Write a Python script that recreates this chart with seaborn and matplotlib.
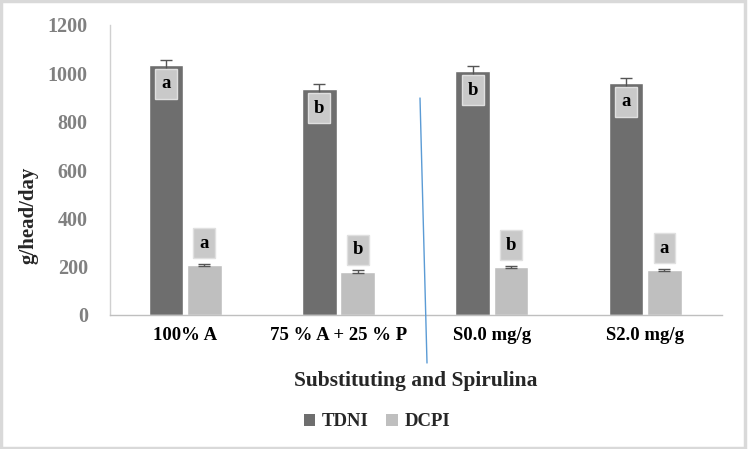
import matplotlib
matplotlib.use("Agg")
import matplotlib.pyplot as plt
import seaborn as sns
import pandas as pd
import numpy as np
from matplotlib.patches import Rectangle, Patch
from matplotlib.lines import Line2D

categories = ["100% A", "75 % A + 25 % P", "S0.0 mg/g", "S2.0 mg/g"]
tdni = [1035, 935, 1010, 962]
dcpi = [207, 180, 199, 186]
tdni_err = [20, 20, 20, 20]
dcpi_err = [5, 5, 5, 5]
tdni_letters = ["a", "b", "b", "a"]
dcpi_letters = ["a", "b", "b", "a"]
series = ["TDNI", "DCPI"]
colors = {"TDNI": "#6e6e6e", "DCPI": "#bfbfbf"}

df = pd.DataFrame({
    "cat": categories * 2,
    "series": ["TDNI"] * 4 + ["DCPI"] * 4,
    "val": tdni + dcpi,
})

sns.set_style("white")
plt.rcParams["font.family"] = ["Liberation Serif", "DejaVu Serif"]

fig = plt.figure(figsize=(7.48, 4.49), dpi=100)
ax = fig.add_axes([110 / 748, 1 - 315 / 449, 612 / 748, 290 / 449])

sns.barplot(data=df, x="cat", y="val", hue="series", palette=colors,
            width=0.5, gap=0.1, ax=ax, legend=False, errorbar=None,
            order=categories, hue_order=series, saturation=1)

bars = ax.patches
tdni_bars = bars[:4]
dcpi_bars = bars[4:8]
for blist, vals, errs in [(tdni_bars, tdni, tdni_err), (dcpi_bars, dcpi, dcpi_err)]:
    xs = [b.get_x() + b.get_width() / 2 for b in blist]
    ax.errorbar(xs, vals, yerr=errs, fmt="none", ecolor="#555555",
                elinewidth=1, capsize=4, capthick=1)

bw = 0.143
bh = 124
for b, v, l in zip(tdni_bars, tdni, tdni_letters):
    cx = b.get_x() + b.get_width() / 2
    ax.add_patch(Rectangle((cx - bw / 2, v - 17 - bh), bw, bh, facecolor="#c9c9c9",
                           edgecolor="#e0e0e0", lw=1, zorder=5))
    ax.text(cx, v - 17 - bh / 2, l, ha="center", va="center", fontsize=13.5,
            fontweight="bold", color="black", zorder=6)
for b, v, l in zip(dcpi_bars, dcpi, dcpi_letters):
    cx = b.get_x() + b.get_width() / 2
    ax.add_patch(Rectangle((cx - bw / 2, v + 28), bw, bh, facecolor="#c9c9c9",
                           edgecolor="#e0e0e0", lw=1, zorder=5))
    ax.text(cx, v + 28 + bh / 2, l, ha="center", va="center", fontsize=13.5,
            fontweight="bold", color="black", zorder=6)

ax.set_xlim(-0.49, 3.5)
ax.set_ylim(0, 1200)
ax.set_yticks([0, 200, 400, 600, 800, 1000, 1200])
ax.tick_params(axis="y", length=0, labelsize=14.5, labelcolor="#808080", pad=16)
ax.tick_params(axis="x", length=0, labelsize=13.5, labelcolor="black", pad=9)
for t in ax.get_yticklabels():
    t.set_fontweight("bold")
for t in ax.get_xticklabels():
    t.set_fontweight("bold")

for s in ["top", "right"]:
    ax.spines[s].set_visible(False)
ax.spines["left"].set_color("#d0d0d0")
ax.spines["bottom"].set_color("#bfbfbf")
ax.spines["left"].set_linewidth(1)
ax.spines["bottom"].set_linewidth(1)

ax.set_ylabel("g/head/day", fontsize=15, fontweight="bold")
ax.yaxis.set_label_coords(-(110 - 39) / 612, (315 - 215) / 290)
ax.set_xlabel("Substituting and Spirulina", fontsize=15.5, fontweight="bold", labelpad=19)

handles = [Patch(facecolor=colors[s], edgecolor="none", label=s) for s in series]
leg = fig.legend(handles=handles, loc="center", bbox_to_anchor=(377 / 748, 1 - 422 / 449),
                 ncol=2, frameon=False, handlelength=0.6, handleheight=0.6,
                 columnspacing=0.95, handletextpad=0.35,
                 prop={"family": "Liberation Serif", "weight": "bold", "size": 13.5})
for t in leg.get_texts():
    t.set_fontweight("bold")

fig.add_artist(Line2D([420 / 748, 427 / 748], [1 - 98 / 449, 1 - 363 / 449],
                      color="#5b9bd5", lw=1))
fig.add_artist(Rectangle((0.002, 0.003), 0.994, 0.994, transform=fig.transFigure,
                         facecolor="none", edgecolor="#d9d9d9", lw=2.5))

fig.savefig("out.png", dpi=100)
